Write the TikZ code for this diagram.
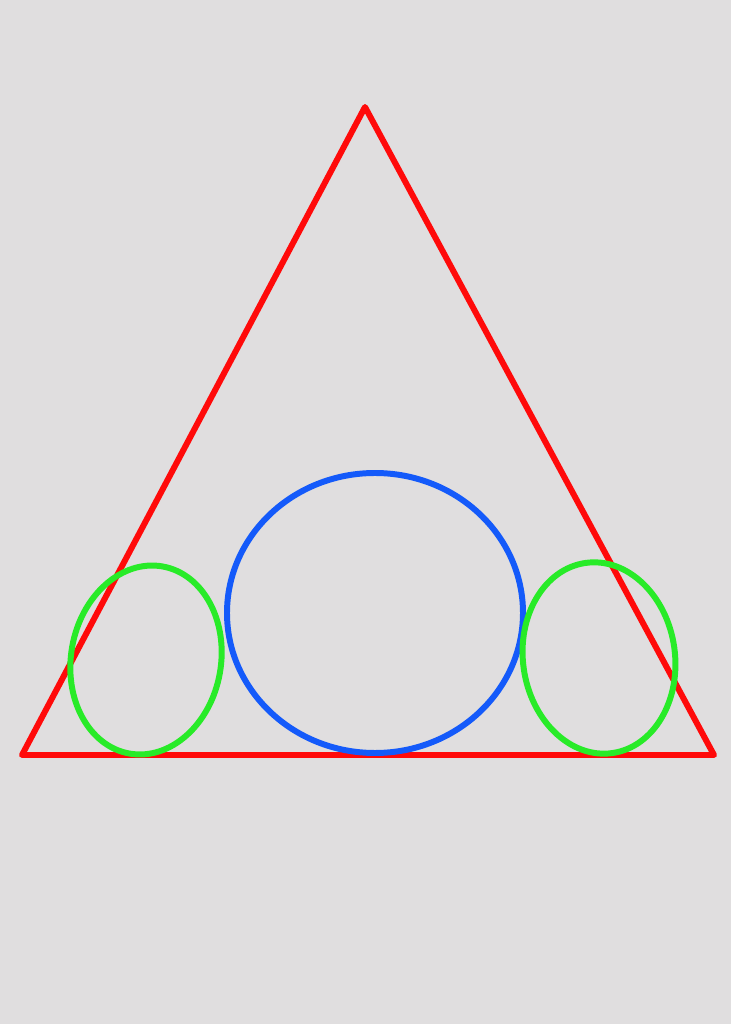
\documentclass[tikz,border=0pt]{standalone}
\usepackage{tikz}
\definecolor{paper}{RGB}{224,222,223}
\definecolor{trired}{RGB}{255,10,10}
\definecolor{bigblue}{RGB}{20,90,250}
\definecolor{sidegreen}{RGB}{40,235,40}
\begin{document}
\begin{tikzpicture}[
        triangle/.style={draw=trired, line width=3.4pt, line join=round}, % Triangle styling
        bigcircle/.style={draw=bigblue, line width=3.4pt}, % Middle circle styling
        sidecircle/.style={draw=sidegreen, line width=3.4pt} % Side circles styling
        ]

        % Background
        \fill[paper] (0,0) rectangle (14.62,20.48);

        % Define corners
        \coordinate (apex) at (7.30,18.34);
        \coordinate (left) at (0.44,5.38);
        \coordinate (right) at (14.28,5.38);

        % Draw triangle
        \draw[triangle] (apex) -- (left) -- (right) -- cycle;

        % Draw circles
        \draw[bigcircle] (7.50,8.22) ellipse [x radius=2.96, y radius=2.80];
        \draw[sidecircle, rotate around={-10:(2.92,7.28)}] (2.92,7.28) ellipse [x radius=1.50, y radius=1.90];
        \draw[sidecircle, rotate around={8:(11.98,7.32)}] (11.98,7.32) ellipse [x radius=1.52, y radius=1.92];

    \end{tikzpicture}
\end{document}
